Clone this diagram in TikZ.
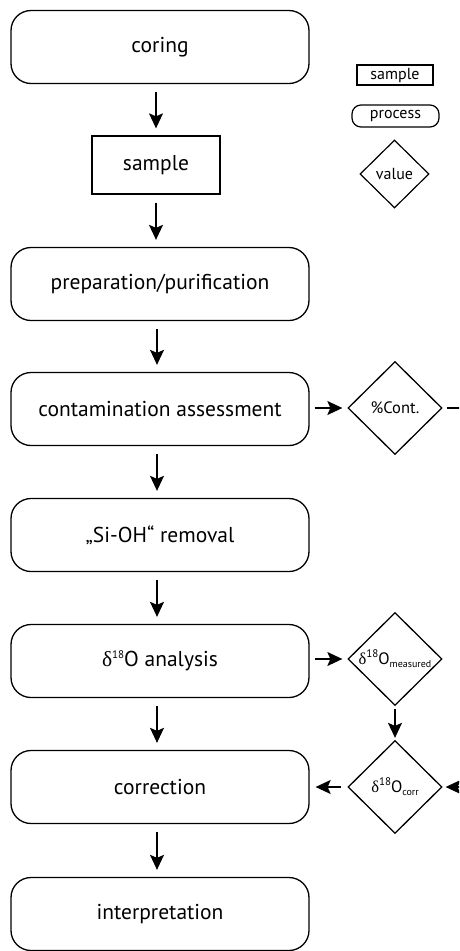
\documentclass[tikz,border=0pt]{standalone}
\usepackage{fontspec}
\setmainfont{PT Sans}
\newfontfamily\grk{Liberation Serif}
\usetikzlibrary{shapes.geometric,arrows.meta}
\newcommand\dsup[1]{{\grk δ}\raisebox{.75ex}{\fontsize{11}{11}\selectfont 18}O#1}
\begin{document}
\begin{tikzpicture}[x=1pt,y=-1pt,
  proc/.style={draw, rounded corners=20pt, minimum width=298pt, minimum height=73pt, line width=1.3pt, font=\fontsize{21.5}{25}\selectfont},
  samp/.style={draw, minimum width=128pt, minimum height=58pt, line width=1.3pt, font=\fontsize{21.5}{25}\selectfont},
  val/.style={draw, diamond, minimum width=94pt, minimum height=93pt, inner sep=0pt, line width=1.3pt},
  lsamp/.style={draw, minimum width=76pt, minimum height=20pt, inner sep=0pt, line width=1.2pt, font=\fontsize{16}{18}\selectfont},
  lproc/.style={draw, rounded corners=9pt, minimum width=87pt, minimum height=22pt, inner sep=0pt, line width=1.2pt, font=\fontsize{16}{18}\selectfont},
  lval/.style={draw, diamond, minimum width=69pt, minimum height=68pt, inner sep=0pt, line width=1.2pt},
  arr/.style={-{Stealth[length=15pt,width=14pt,inset=3pt]}, line width=1.4pt},
  vtext/.style={font=\fontsize{16.5}{18}\selectfont},
]
\useasboundingbox (0,0) rectangle (459,951);
\clip (0,0) rectangle (459,951);
% main column
\node[proc] (coring) at (160,47) {coring};
\node[samp] (sample) at (156,165) {sample};
\node[proc] (prep) at (160,284) {preparation/purification};
\node[proc] (cont) at (160,409) {contamination assessment};
\node[proc] (sioh) at (160,535) {„Si-OH“ removal};
\node[proc] (anal) at (160,661) {\dsup{} analysis};
\node[proc] (corr) at (160,787) {correction};
\node[proc] (interp) at (160,914) {interpretation};
% value diamonds
\node[val, label={[vtext]center:\%Cont.}] (pc) at (395,408) {};
\node[val, label={[vtext]center:\dsup{\raisebox{-.45ex}{\fontsize{10}{10}\selectfont measured}}}] (meas) at (395,659) {};
\node[val, label={[vtext]center:\dsup{\raisebox{-.45ex}{\fontsize{10}{10}\selectfont corr}}}] (dcorr) at (395,787) {};
% legend
\node[lsamp] (lsample) at (395,75) {sample};
\node[lproc] (lprocess) at (395.5,116) {process};
\node[lval, label={[font=\fontsize{16}{18}\selectfont]center:value}] (lvalue) at (394.5,174) {};
% edge coordinates
\coordinate (outA) at (470,408);
\coordinate (outB) at (470,787);
% vertical arrows
\draw[arr, shorten <=8pt, shorten >=7pt] (coring.south -| sample.center) -- (sample.north);
\draw[arr, shorten <=8pt, shorten >=7pt] (sample.south) -- (prep.north -| sample.center);
\draw[arr, shorten <=8pt, shorten >=7pt] ([xshift=-3pt]prep.south) -- ([xshift=-3pt]cont.north);
\draw[arr, shorten <=8pt, shorten >=7pt] ([xshift=-3pt]cont.south) -- ([xshift=-3pt]sioh.north);
\draw[arr, shorten <=8pt, shorten >=7pt] ([xshift=-3pt]sioh.south) -- ([xshift=-3pt]anal.north);
\draw[arr, shorten <=8pt, shorten >=7pt] ([xshift=-3pt]anal.south) -- ([xshift=-3pt]corr.north);
\draw[arr, shorten <=8pt, shorten >=7pt] ([xshift=-3pt]corr.south) -- ([xshift=-3pt]interp.north);
% right side arrows
\draw[arr, shorten <=5pt, shorten >=5pt] (cont.east |- pc.west) -- (pc.west);
\draw[arr, shorten <=5pt, shorten >=5pt] (anal.east |- meas.west) -- (meas.west);
\draw[arr, shorten <=3pt, shorten >=2pt] (meas.south) -- (dcorr.north);
\draw[arr, shorten <=6pt, shorten >=6pt] (dcorr.west) -- (corr.east |- dcorr.west);
\draw[line width=1.4pt, shorten <=4pt] (pc.east) -- (outA);
\draw[arr, shorten >=3pt] (outB) -- (dcorr.east);
\end{tikzpicture}
\end{document}
